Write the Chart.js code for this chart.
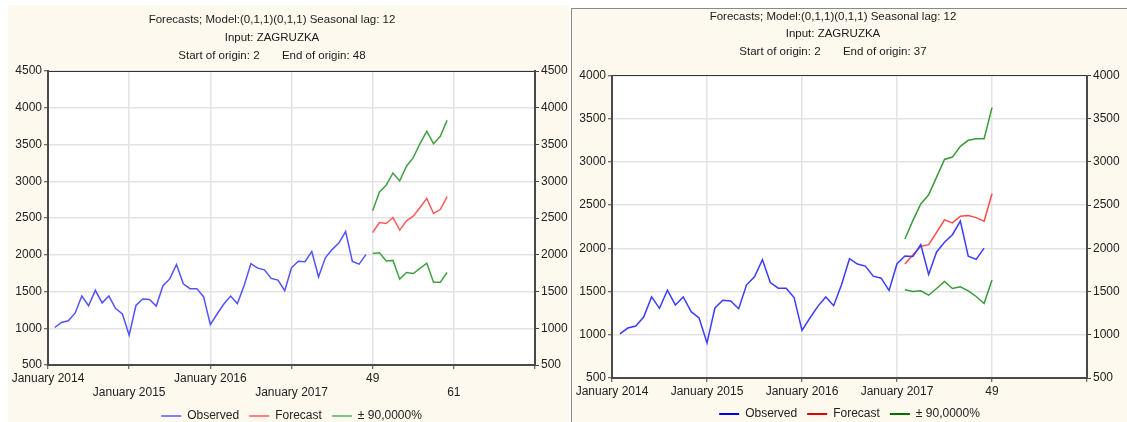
<!DOCTYPE html>
<html>
<head>
<meta charset="utf-8">
<script src="https://cdn.jsdelivr.net/npm/chart.js@4.4.1/dist/chart.umd.min.js"></script>
<style>
  html, body { margin: 0; padding: 0; background: #fff; width: 1127px; height: 422px; overflow: hidden; position: relative; }
  .panel { position: absolute; background: #fdf9ee; }
  #panelL { left: 8px; top: 5px; width: 561px; height: 417px; }
  #panelR { left: 571px; top: 8px; width: 556px; height: 414px; border-left: 1px solid #8a8a8a; border-top: 1px solid #8a8a8a; box-sizing: border-box; }
  canvas { position: absolute; top: 0; }
  #chartL { left: -25px; }
  #chartR { left: 544px; }
</style>
</head>
<body>
<div class="panel" id="panelL"></div>
<div class="panel" id="panelR"></div>
<canvas id="chartL" width="594" height="432"></canvas>
<canvas id="chartR" width="578" height="430"></canvas>
<script>
// observed series, months 1..47
const observed = [1010, 1078, 1101, 1205, 1438, 1306, 1516, 1345, 1438, 1267, 1194, 905,
  1310, 1399, 1392, 1302, 1578, 1671, 1868, 1605, 1539, 1539, 1430, 1050,
  1194, 1329, 1438, 1337, 1581, 1880, 1818, 1795, 1678, 1655, 1512, 1822,
  1911, 1905, 2045, 1698, 1959, 2070, 2158, 2315, 1909, 1872, 2002]

// left chart: forecast from case 48
const originLeft = 48
const forecastLeft = [2303, 2439, 2425, 2507, 2335, 2462, 2525, 2643, 2765, 2561, 2615, 2792]
const upperLeft = [2597, 2855, 2946, 3113, 3005, 3204, 3321, 3511, 3679, 3511, 3611, 3828]
const lowerLeft = [2018, 2027, 1914, 1923, 1668, 1759, 1745, 1814, 1886, 1627, 1627, 1759]

// right chart: forecast from case 37
const originRight = 37
const forecastRight = [1818, 1923, 2023, 2043, 2186, 2329, 2294, 2371, 2379, 2356, 2313, 2631]
const upperRight = [2108, 2321, 2514, 2619, 2824, 3029, 3056, 3180, 3250, 3269, 3269, 3629]
const lowerRight = [1520, 1501, 1509, 1458, 1536, 1617, 1536, 1555, 1509, 1443, 1362, 1633]

const xTickPos = [0, 12, 24, 36, 48, 60, 72]
const xTickNamesLeft = ['January 2014', 'January 2015', 'January 2016', 'January 2017', '49', '61', '']
const xTickNamesRight = ['January 2014', 'January 2015', 'January 2016', 'January 2017', '49', '']
const yTicksLeft = [500, 1000, 1500, 2000, 2500, 3000, 3500, 4000, 4500]
const yTicksRight = [500, 1000, 1500, 2000, 2500, 3000, 3500, 4000]
const legendNames = ['Observed', 'Forecast', '± 90,0000%']

Chart.defaults.font.family = "'Liberation Sans', Arial, sans-serif"
Chart.defaults.color = '#222'

const series = (values, start) => values.map((v, i) => ({ x: start + i, y: v }))

const plotBg = {
  id: 'plotBg',
  beforeDraw (chart) {
    const a = chart.chartArea
    const ctx = chart.ctx
    ctx.save()
    ctx.fillStyle = '#fff'
    ctx.fillRect(a.left, a.top, a.right - a.left, a.bottom - a.top)
    ctx.restore()
  }
}

function makeChart (id, o) {
  const ds = (label, data, color) => ({
    label, data, borderColor: color, backgroundColor: color,
    borderWidth: 1.5, pointRadius: 0, tension: 0, fill: false
  })
  const yTickSet = s => { s.ticks = o.yTicks.map(v => ({ value: v })) }
  const yMin = o.yTicks[0]
  const yMax = o.yTicks[o.yTicks.length - 1]
  const xMax = xTickPos[o.xNames.length - 1]

  return new Chart(document.getElementById(id), {
    type: 'line',
    data: {
      datasets: [
        ds('Observed', series(observed, 1), o.lines[0]),
        ds('Forecast', series(o.forecast, o.origin), o.lines[1]),
        ds('± 90,0000%', series(o.upper, o.origin), o.lines[2]),
        ds('lower', series(o.lower, o.origin), o.lines[2])
      ]
    },
    options: {
      responsive: false,
      animation: false,
      devicePixelRatio: 1,
      layout: { padding: 0 },
      plugins: {
        tooltip: { enabled: false },
        title: {
          display: true,
          text: o.title,
          color: '#1a1a1a',
          font: { size: 11.5, weight: 'normal', lineHeight: o.titleLH + 'px' },
          padding: { top: o.titlePT, bottom: o.titlePB }
        },
        legend: {
          position: 'bottom',
          fullSize: false,
          labels: {
            font: { size: 12 },
            color: '#222',
            usePointStyle: true,
            pointStyleWidth: 20,
            padding: 10,
            generateLabels: () => legendNames.map((t, i) => ({
              text: t, strokeStyle: o.legend[i], fillStyle: o.legend[i], lineWidth: 2,
              pointStyle: 'line', hidden: false, datasetIndex: i, fontColor: '#222'
            }))
          }
        }
      },
      scales: {
        x: {
          type: 'linear',
          position: 'bottom',
          min: 0,
          max: xMax,
          afterBuildTicks: s => { s.ticks = xTickPos.filter(v => v <= xMax).map(v => ({ value: v })) },
          afterFit: s => { s.height = o.xH },
          ticks: {
            autoSkip: false, maxRotation: 0, minRotation: 0, padding: 3,
            font: { size: 12, lineHeight: '14px' }, color: '#222',
            callback: v => {
              const i = xTickPos.indexOf(v)
              const t = o.xNames[i] || ''
              return (o.twoRows && i % 2 === 1) ? ['', t] : t
            }
          },
          grid: { color: '#e3e3e3', lineWidth: 1.5, tickColor: '#444', tickLength: 4, tickWidth: 1 },
          border: { color: '#4a4a4a', width: 2 }
        },
        xT: {
          type: 'linear',
          position: 'top',
          min: 0,
          max: xMax,
          afterFit: s => { s.height = 0 },
          ticks: { display: false },
          grid: { display: false },
          border: { color: '#333', width: 1 }
        },
        y: {
          position: 'left',
          min: yMin,
          max: yMax,
          afterBuildTicks: yTickSet,
          afterFit: s => { s.width = o.yW },
          ticks: { padding: 2, font: { size: 12 }, color: '#222', callback: v => String(v) },
          grid: { color: '#e3e3e3', lineWidth: 1.5, tickColor: '#444', tickLength: 4, tickWidth: 1 },
          border: { color: '#4a4a4a', width: 2 }
        },
        yR: {
          position: 'right',
          min: yMin,
          max: yMax,
          afterBuildTicks: yTickSet,
          afterFit: s => { s.width = o.yRW },
          ticks: { padding: 2, font: { size: 12 }, color: '#222', callback: v => String(v) },
          grid: { drawOnChartArea: false, tickColor: '#444', tickLength: 4, tickWidth: 1 },
          border: { color: '#4a4a4a', width: 2 }
        }
      }
    },
    plugins: [plotBg]
  })
}

makeChart('chartL', {
  title: ['Forecasts; Model:(0,1,1)(0,1,1) Seasonal lag: 12', 'Input: ZAGRUZKA', 'Start of origin: 2       End of origin: 48'],
  forecast: forecastLeft, upper: upperLeft, lower: lowerLeft, origin: originLeft,
  xNames: xTickNamesLeft, yTicks: yTicksLeft, twoRows: true,
  lines: ['#5252ff', '#ff5a5a', '#44a044'],
  legend: ['#8080ff', '#ff8080', '#80c080'],
  yW: 73, yRW: 34, xH: 35, titleLH: 18, titlePT: 11, titlePB: 6
})

makeChart('chartR', {
  title: ['Forecasts; Model:(0,1,1)(0,1,1) Seasonal lag: 12', 'Input: ZAGRUZKA', 'Start of origin: 2       End of origin: 37'],
  forecast: forecastRight, upper: upperRight, lower: lowerRight, origin: originRight,
  xNames: xTickNamesRight, yTicks: yTicksRight, twoRows: false,
  lines: ['#3c3cff', '#ff4848', '#3a9a3a'],
  legend: ['#0000ee', '#dd0000', '#007000'],
  yW: 68, yRW: 35, xH: 20, titleLH: 17.5, titlePT: 8, titlePB: 15
})
</script>
</body>
</html>
